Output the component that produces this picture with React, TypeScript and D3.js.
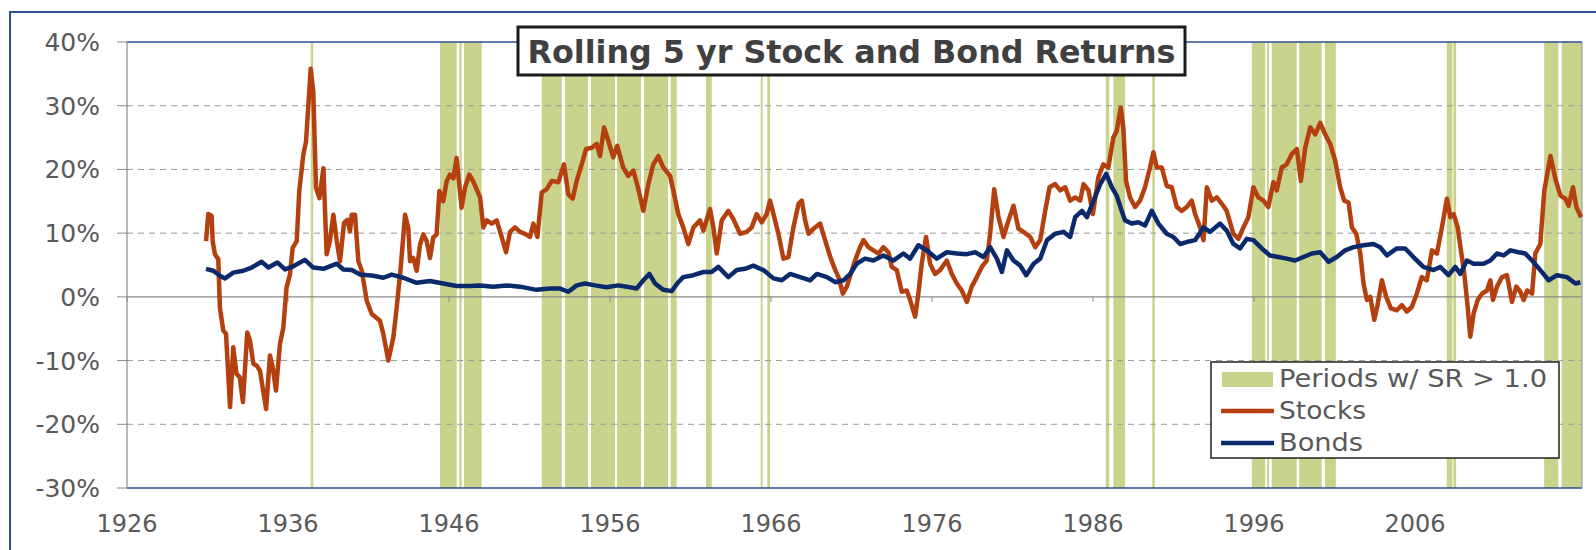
import React from "react";
import * as d3 from "d3";

// rolling 5 yr annualised returns, [year, %]
const stocks: [number, number][] = [
  [1930.91, 8.75], [1931.05, 13.0], [1931.26, 12.7], [1931.32, 8.75], [1931.46, 6.7], [1931.67, 5.9],
  [1931.77, -1.7], [1931.98, -5.3], [1932.15, -5.8], [1932.4, -17.3], [1932.6, -7.9], [1932.8, -12.1],
  [1933.0, -12.6], [1933.2, -16.5], [1933.47, -5.6], [1933.64, -6.9], [1933.85, -10.5], [1934.06, -10.8],
  [1934.26, -11.6], [1934.64, -17.6], [1934.88, -9.2], [1935.05, -11.0], [1935.25, -14.7], [1935.5, -7.4],
  [1935.71, -4.8], [1935.91, 1.5], [1936.12, 3.5], [1936.29, 7.7], [1936.54, 8.75], [1936.7, 16.6],
  [1936.95, 22.3], [1937.12, 24.4], [1937.41, 35.8], [1937.57, 32.2], [1937.74, 17.1], [1937.95, 15.5],
  [1938.2, 20.2], [1938.4, 6.7], [1938.6, 8.75], [1938.82, 12.9], [1939.03, 8.75], [1939.23, 5.6],
  [1939.48, 11.6], [1939.69, 12.1], [1939.85, 10.3], [1939.96, 12.9], [1940.16, 12.9], [1940.37, 5.6],
  [1940.58, 4.1], [1940.89, -0.6], [1941.2, -2.7], [1941.71, -3.75], [1941.92, -5.8], [1942.23, -10.0],
  [1942.54, -6.4], [1942.75, -1.7], [1943.0, 4.6], [1943.27, 12.9], [1943.47, 10.8], [1943.58, 5.6],
  [1943.78, 6.1], [1943.99, 4.1], [1944.2, 8.2], [1944.4, 9.8], [1944.61, 8.75], [1944.82, 6.1],
  [1945.02, 9.3], [1945.23, 9.8], [1945.4, 16.6], [1945.64, 15.0], [1945.85, 18.1], [1946.06, 19.2],
  [1946.27, 18.6], [1946.47, 21.8], [1946.78, 14.0], [1946.99, 17.1], [1947.26, 19.2], [1947.51, 18.1],
  [1947.93, 15.6], [1948.13, 10.9], [1948.34, 12.0], [1948.65, 11.5], [1948.96, 12.0], [1949.27, 9.4],
  [1949.54, 7.0], [1949.79, 10.2], [1950.1, 10.9], [1950.41, 10.2], [1950.72, 9.9], [1951.03, 9.4],
  [1951.24, 11.5], [1951.49, 9.4], [1951.76, 16.4], [1952.07, 16.9], [1952.38, 18.2], [1952.79, 18.0],
  [1953.14, 20.8], [1953.41, 16.1], [1953.68, 15.4], [1953.93, 18.2], [1954.24, 20.8], [1954.51, 23.2],
  [1954.86, 23.4], [1955.17, 24.0], [1955.38, 22.1], [1955.63, 26.6], [1955.89, 24.5], [1956.2, 21.9],
  [1956.45, 23.7], [1956.82, 20.3], [1957.13, 19.0], [1957.45, 19.8], [1957.76, 16.9], [1958.07, 13.5],
  [1958.38, 17.7], [1958.69, 20.8], [1959.0, 22.1], [1959.31, 20.3], [1959.73, 19.0], [1959.93, 16.7],
  [1960.24, 13.0], [1960.55, 10.9], [1960.86, 8.3], [1961.18, 10.9], [1961.59, 12.0], [1961.8, 10.4],
  [1962.21, 13.8], [1962.42, 10.9], [1962.63, 6.8], [1962.94, 12.0], [1963.35, 13.5], [1963.66, 12.2],
  [1964.08, 9.9], [1964.49, 10.2], [1964.8, 10.9], [1965.11, 13.0], [1965.42, 11.7], [1965.73, 13.0],
  [1965.94, 15.1], [1966.25, 12.0], [1966.46, 9.9], [1966.77, 6.0], [1967.08, 6.25], [1967.39, 10.9],
  [1967.71, 14.6], [1967.91, 15.1], [1968.12, 12.0], [1968.33, 9.9], [1968.64, 10.7], [1969.05, 11.5],
  [1969.36, 8.9], [1969.68, 6.25], [1969.99, 4.2], [1970.19, 3.1], [1970.46, 0.5], [1970.71, 1.6],
  [1971.22, 5.7], [1971.53, 7.8], [1971.74, 8.9], [1972.05, 7.8], [1972.36, 7.3], [1972.67, 6.8],
  [1972.98, 7.8], [1973.29, 7.0], [1973.5, 4.7], [1973.81, 4.2], [1974.12, 0.8], [1974.43, 1.0],
  [1974.64, -0.5], [1974.95, -3.1], [1975.15, 0.5], [1975.36, 5.2], [1975.63, 9.4], [1975.88, 5.2],
  [1976.19, 3.6], [1976.5, 4.2], [1976.92, 5.7], [1977.23, 3.6], [1977.54, 2.1], [1977.85, 1.0],
  [1978.16, -0.8], [1978.47, 1.6], [1978.78, 3.1], [1979.09, 4.7], [1979.4, 5.7], [1979.61, 9.9],
  [1979.86, 16.9], [1980.13, 12.5], [1980.44, 9.4], [1980.75, 12.0], [1981.06, 14.3], [1981.37, 10.7],
  [1981.68, 10.2], [1982.1, 9.4], [1982.41, 7.8], [1982.72, 8.9], [1983.03, 13.5], [1983.3, 17.2],
  [1983.65, 17.7], [1983.96, 16.7], [1984.27, 17.2], [1984.58, 15.1], [1984.89, 15.6], [1985.2, 15.1],
  [1985.41, 17.7], [1985.72, 16.7], [1985.99, 13.0], [1986.33, 18.75], [1986.64, 20.8], [1986.95, 20.3],
  [1987.26, 25.0], [1987.47, 26.0], [1987.72, 29.7], [1987.88, 26.6], [1988.05, 18.2], [1988.3, 15.6],
  [1988.61, 14.1], [1988.92, 15.1], [1989.23, 17.2], [1989.54, 20.3], [1989.75, 22.7], [1989.96, 20.3],
  [1990.27, 20.3], [1990.58, 17.4], [1990.89, 17.2], [1991.2, 14.1], [1991.51, 13.5], [1991.82, 14.1],
  [1992.13, 15.1], [1992.34, 13.0], [1992.65, 10.9], [1992.86, 8.9], [1993.07, 17.2], [1993.38, 15.1],
  [1993.69, 15.6], [1994.0, 14.6], [1994.3, 13.5], [1994.72, 9.9], [1995.03, 9.1], [1995.34, 10.9],
  [1995.65, 12.5], [1995.96, 17.2], [1996.27, 15.6], [1996.58, 15.1], [1996.89, 14.1], [1997.2, 18.0],
  [1997.41, 16.7], [1997.72, 20.3], [1998.03, 20.8], [1998.34, 22.4], [1998.66, 23.2], [1998.91, 18.2],
  [1999.18, 23.4], [1999.49, 26.6], [1999.8, 25.5], [2000.11, 27.3], [2000.42, 25.5], [2000.73, 24.0],
  [2001.04, 21.4], [2001.35, 17.2], [2001.6, 15.1], [2001.87, 14.8], [2002.08, 10.9], [2002.35, 9.9],
  [2002.6, 6.8], [2002.8, 2.1], [2003.01, -0.5], [2003.22, 0.0], [2003.47, -3.6], [2003.67, -1.3],
  [2003.94, 2.6], [2004.21, 0.0], [2004.5, -1.8], [2004.87, -2.1], [2005.18, -1.3], [2005.49, -2.3],
  [2005.8, -1.6], [2006.11, 0.5], [2006.42, 3.1], [2006.73, 2.6], [2007.05, 7.3], [2007.36, 6.8],
  [2007.67, 10.9], [2007.98, 15.4], [2008.19, 12.5], [2008.4, 13.0], [2008.65, 10.9], [2008.85, 7.3],
  [2009.06, 3.6], [2009.27, -1.6], [2009.43, -6.25], [2009.64, -2.6], [2009.89, -0.5], [2010.16, 0.5],
  [2010.47, 1.0], [2010.68, 2.6], [2010.84, -0.5], [2011.09, 1.6], [2011.4, 3.1], [2011.71, 3.4],
  [2012.02, -0.8], [2012.29, 1.6], [2012.54, 0.8], [2012.75, -0.5], [2012.96, 1.0], [2013.27, 0.5],
  [2013.47, 6.8], [2013.78, 8.3], [2014.03, 16.7], [2014.41, 22.1], [2014.72, 18.5], [2015.03, 15.9],
  [2015.34, 15.4], [2015.54, 14.3], [2015.81, 17.2], [2016.02, 14.1], [2016.31, 12.5],
];

const bonds: [number, number][] = [
  [1930.91, 4.4], [1931.36, 4.1], [1931.77, 3.3], [1932.09, 2.9], [1932.6, 3.8], [1933.22, 4.1],
  [1933.74, 4.6], [1934.36, 5.5], [1934.78, 4.6], [1935.34, 5.4], [1935.81, 4.3], [1936.33, 4.8],
  [1937.05, 5.8], [1937.57, 4.6], [1938.2, 4.4], [1939.03, 5.2], [1939.44, 4.3], [1939.96, 4.2],
  [1940.48, 3.5], [1941.3, 3.3], [1941.92, 3.0], [1942.44, 3.5], [1943.16, 3.0], [1943.99, 2.2],
  [1944.82, 2.5], [1945.64, 2.1], [1946.47, 1.7], [1947.3, 1.7], [1947.93, 1.8], [1948.75, 1.6],
  [1949.58, 1.8], [1950.41, 1.6], [1951.44, 1.1], [1952.27, 1.3], [1952.9, 1.3], [1953.41, 0.8],
  [1953.93, 1.8], [1954.45, 2.1], [1955.07, 1.8], [1955.79, 1.5], [1956.51, 1.8], [1957.03, 1.6],
  [1957.65, 1.3], [1958.07, 2.6], [1958.44, 3.6], [1958.8, 2.1], [1959.31, 1.1], [1959.83, 0.9],
  [1960.24, 2.3], [1960.55, 3.1], [1961.18, 3.4], [1961.8, 3.9], [1962.31, 3.9], [1962.73, 4.7],
  [1963.35, 3.1], [1963.87, 4.2], [1964.39, 4.4], [1964.9, 4.9], [1965.53, 4.2], [1966.15, 2.9],
  [1966.67, 2.6], [1967.18, 3.6], [1967.81, 3.1], [1968.43, 2.6], [1968.85, 3.6], [1969.47, 3.1],
  [1969.99, 2.3], [1970.5, 2.6], [1970.92, 3.6], [1971.32, 5.2], [1971.84, 6.0], [1972.36, 5.7],
  [1972.98, 6.5], [1973.6, 5.7], [1974.22, 6.8], [1974.64, 6.0], [1975.15, 8.1], [1975.67, 7.3],
  [1976.29, 6.0], [1976.92, 7.0], [1977.54, 6.8], [1978.16, 6.7], [1978.68, 7.0], [1979.2, 6.25],
  [1979.61, 7.8], [1980.03, 6.0], [1980.34, 3.9], [1980.65, 7.3], [1981.06, 5.7], [1981.48, 4.9],
  [1981.85, 3.4], [1982.31, 5.2], [1982.72, 6.0], [1983.14, 8.9], [1983.65, 9.9], [1984.17, 10.2],
  [1984.58, 9.4], [1984.89, 12.5], [1985.31, 13.5], [1985.62, 12.5], [1986.03, 15.1], [1986.45, 17.7],
  [1986.82, 19.3], [1987.17, 17.2], [1987.47, 15.9], [1987.78, 13.5], [1987.99, 12.0], [1988.4, 11.5],
  [1988.82, 11.7], [1989.23, 11.2], [1989.65, 13.5], [1990.06, 11.5], [1990.58, 9.9], [1990.99, 9.4],
  [1991.41, 8.3], [1991.82, 8.6], [1992.34, 8.9], [1992.86, 10.9], [1993.27, 10.2], [1993.89, 11.5],
  [1994.3, 10.4], [1994.72, 8.3], [1995.13, 7.6], [1995.55, 9.1], [1995.96, 8.9], [1996.48, 7.6],
  [1996.99, 6.5], [1997.51, 6.25], [1998.03, 6.0], [1998.55, 5.7], [1999.07, 6.25], [1999.59, 6.8],
  [2000.11, 7.0], [2000.63, 5.5], [2001.14, 6.25], [2001.66, 7.3], [2002.18, 7.8], [2002.8, 8.1],
  [2003.42, 8.3], [2003.83, 7.8], [2004.25, 6.5], [2004.87, 7.6], [2005.39, 7.6], [2005.9, 6.25],
  [2006.52, 4.7], [2007.15, 4.2], [2007.56, 4.7], [2008.08, 3.4], [2008.5, 4.7], [2008.81, 3.6],
  [2009.22, 5.7], [2009.64, 5.2], [2010.26, 5.2], [2010.68, 5.7], [2011.09, 6.8], [2011.5, 6.5],
  [2011.92, 7.3], [2012.44, 7.0], [2012.85, 6.8], [2013.27, 5.7], [2013.78, 4.2], [2014.3, 2.6],
  [2014.82, 3.4], [2015.44, 3.1], [2015.96, 2.1], [2016.27, 2.3],
];

// periods with sharpe ratio > 1.0, [start, end] in years
const srPeriods: [number, number][] = [
  [1937.41, 1937.57], [1945.44, 1946.48], [1946.64, 1946.79], [1946.93, 1948.03],
  [1951.76, 1953.0], [1953.2, 1954.63], [1954.82, 1956.31], [1956.43, 1957.93],
  [1958.11, 1959.6], [1959.77, 1960.14], [1961.96, 1962.32], [1965.36, 1965.48],
  [1965.77, 1965.94], [1986.79, 1987.01], [1987.26, 1987.99], [1989.68, 1989.84],
  [1995.86, 1996.69], [1996.81, 1996.93], [1997.1, 1998.65], [1998.8, 2000.2],
  [2000.4, 2001.08], [2007.97, 2008.32], [2008.38, 2008.55], [2014.02, 2014.9],
  [2015.11, 2016.37],
];

const yTicks = [-30, -20, -10, 0, 10, 20, 30, 40];
const xTicks = [1926, 1936, 1946, 1956, 1966, 1976, 1986, 1996, 2006];
const legendLabels = ["Periods w/ SR > 1.0", "Stocks", "Bonds"];
const title = "Rolling 5 yr Stock and Bond Returns";

const STOCK = "#B5400F";
const BOND = "#0B2A6C";
const SHADE = "#C9D38B";
const TEXT = "#595959";
const FONT = "'DejaVu Sans', Verdana, sans-serif";

export default function App() {
  const x = d3.scaleLinear().domain([1926, 2016.37]).range([127, 1582]);
  const y = d3.scaleLinear().domain([-30, 40]).range([488, 42]);

  const line = d3
    .line<[number, number]>()
    .x((d) => x(d[0]))
    .y((d) => y(d[1]))
    .curve(d3.curveLinear);

  const [x0, x1] = x.range();
  const [yb, yt] = y.range();

  return (
    <svg
      width={1596}
      height={550}
      style={{ position: "absolute", left: 0, top: 0, background: "#fff" }}
      fontFamily={FONT}
    >
      {/* outer chart frame */}
      <rect x={10} y={12} width={1620} height={600} fill="none" stroke="#2A4F95" strokeWidth={2} />

      {/* shaded periods */}
      {srPeriods.map(([s, e], i) => (
        <rect
          key={"p" + i}
          x={x(s)}
          y={yt}
          width={Math.max(x(e) - x(s), 1.5)}
          height={yb - yt}
          fill={SHADE}
        />
      ))}

      {/* gridlines */}
      {yTicks
        .filter((t) => t !== 0 && t !== 40 && t !== -30)
        .map((t) => (
          <line
            key={"g" + t}
            x1={x0}
            x2={x1}
            y1={y(t)}
            y2={y(t)}
            stroke="#9A9A9A"
            strokeWidth={1}
            strokeDasharray="6,5"
          />
        ))}

      {/* plot border */}
      <line x1={x0} x2={x1} y1={yt} y2={yt} stroke="#2E4F92" strokeWidth={1.5} />
      <line x1={x0} x2={x1} y1={yb} y2={yb} stroke="#2E4F92" strokeWidth={1.5} />
      <line x1={x1} x2={x1} y1={yt} y2={yb} stroke="#8C94A8" strokeWidth={1} />

      {/* y axis */}
      <line x1={x0} x2={x0} y1={yt} y2={yb} stroke="#8A8A8A" strokeWidth={1.2} />
      {yTicks.map((t) => (
        <g key={"y" + t}>
          <line x1={x0 - 10} x2={x0} y1={y(t)} y2={y(t)} stroke="#8A8A8A" strokeWidth={1} />
          <text
            x={100}
            y={y(t)}
            dy="0.36em"
            textAnchor="end"
            fontSize={25}
            fill={TEXT}
          >
            {t + "%"}
          </text>
        </g>
      ))}

      {/* x axis on zero */}
      <line x1={x0} x2={x1} y1={y(0)} y2={y(0)} stroke="#8A8A8A" strokeWidth={1.2} />
      {xTicks.map((t) => (
        <g key={"x" + t}>
          <line x1={x(t)} x2={x(t)} y1={y(0)} y2={y(0) + 5} stroke="#8A8A8A" strokeWidth={1} />
          <text x={x(t)} y={532} textAnchor="middle" fontSize={24} fill={TEXT}>
            {t}
          </text>
        </g>
      ))}

      {/* series */}
      <path d={line(stocks) || ""} fill="none" stroke={STOCK} strokeWidth={4.5} strokeLinejoin="round" />
      <path d={line(bonds) || ""} fill="none" stroke={BOND} strokeWidth={4.5} strokeLinejoin="round" />

      {/* title */}
      <rect x={518} y={27} width={667} height={48} fill="#fff" stroke="#1A1A1A" strokeWidth={3} />
      <text
        x={851.5}
        y={63}
        textAnchor="middle"
        fontSize={32}
        fontWeight="bold"
        fill="#404040"
        textLength={648}
        lengthAdjust="spacingAndGlyphs"
      >
        {title}
      </text>

      {/* legend */}
      <g>
        <rect x={1211} y={362} width={348} height={96} fill="#fff" stroke="#222" strokeWidth={1.5} />
        <rect x={1222} y={372} width={51} height={15} fill={SHADE} />
        <line x1={1221} x2={1274} y1={411} y2={411} stroke={STOCK} strokeWidth={4.5} />
        <line x1={1221} x2={1274} y1={443} y2={443} stroke={BOND} strokeWidth={4.5} />
        {legendLabels.map((l, i) => (
          <text
            key={l}
            x={1279}
            y={387 + i * 32}
            fontSize={24}
            fill={TEXT}
            textLength={[268, 87, 84][i]}
            lengthAdjust="spacingAndGlyphs"
          >
            {l}
          </text>
        ))}
      </g>
    </svg>
  );
}
